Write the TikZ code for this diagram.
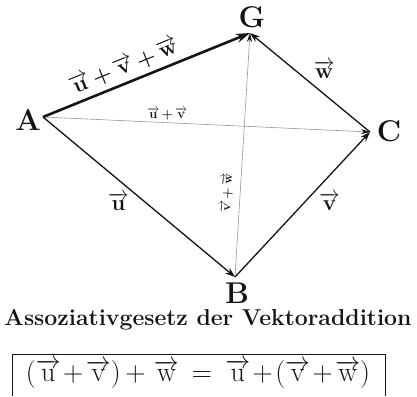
\documentclass[tikz,border=0pt]{standalone}
\usepackage{amsmath,amssymb}
\usetikzlibrary{arrows.meta,positioning}
\definecolor{inkblack}{RGB}{20,20,20}
\definecolor{thingray}{RGB}{150,150,150}
\newcommand{\vek}[1]{$\overrightarrow{\text{\bfseries #1}}$}
\newcommand{\vekn}[1]{$\overrightarrow{\text{#1}}$}
\newcommand{\plusgap}{\hspace{2.5pt}+\hspace{2.5pt}}
\tikzset{
  vecedge/.style={-{Stealth[length=10pt,width=7pt]},line width=1.3pt,draw=inkblack},
  sumedge/.style={-{Stealth[length=14pt,width=9pt]},line width=2.6pt,draw=inkblack},
  helpedge/.style={-{Stealth[length=9pt,width=5pt,color=inkblack]},line width=0.6pt,draw=thingray},
  pointlabel/.style={font=\fontsize{30}{32}\selectfont\bfseries,inner sep=0pt,text=inkblack},
  veclabel/.style={font=\fontsize{22}{24}\selectfont\bfseries,inner sep=1pt,text=inkblack},
  smalllabel/.style={font=\fontsize{13}{15}\selectfont\bfseries,inner sep=1pt,text=inkblack}
}
\begin{document}
\begin{tikzpicture}[x=1pt,y={(0pt,-1pt)}]
  \useasboundingbox (0,0) rectangle (417,396);
  \coordinate (A) at (43,117);
  \coordinate (G) at (250,33);
  \coordinate (C) at (370,132);
  \coordinate (B) at (235,277);
  \node[pointlabel] (lA) at (28,120) {A};
  \node[pointlabel] (lG) at (252,17) {G};
  \node[pointlabel] (lC) at (389,131) {C};
  \node[pointlabel] (lB) at (237,293) {B};
  \draw[helpedge] (A) -- node[smalllabel,pos=0.38,above=1pt]{\vek{u}\,+\,\vek{v}} (C);
  \draw[helpedge] (B) -- node[smalllabel,pos=0.34,above=6pt,sloped]{\vek{v}\,+\,\vek{w}} (G);
  \draw[vecedge] (A) -- node[veclabel,pos=0.46,below left=1pt]{\vek{u}} (B);
  \draw[vecedge] (B) -- node[veclabel,pos=0.6,below right=2pt]{\vek{v}} (C);
  \draw[vecedge] (C) -- node[veclabel,pos=0.5,above right=3pt]{\vek{w}} (G);
  \draw[sumedge] (A) -- node[veclabel,pos=0.42,above=4pt,sloped]{\vek{u}\,+\,\vek{v}\,+\,\vek{w}} (G);
  \node[font=\fontsize{23}{26}\selectfont\bfseries,text=inkblack] (title) at (208,320) {Assoziativgesetz der Vektoraddition};
  \node[font=\fontsize{28}{31}\selectfont,text=inkblack] (formula) at (198,374)
    {(\vekn{u}\plusgap\vekn{v})\,+ \vekn{w} \,=\, \vekn{u}\plusgap(\vekn{v}\plusgap\vekn{w})};
  \draw[line width=0.8pt,draw=inkblack] (12,396) -- (12,354) -- (385,354) -- (385,396);
\end{tikzpicture}
\end{document}
